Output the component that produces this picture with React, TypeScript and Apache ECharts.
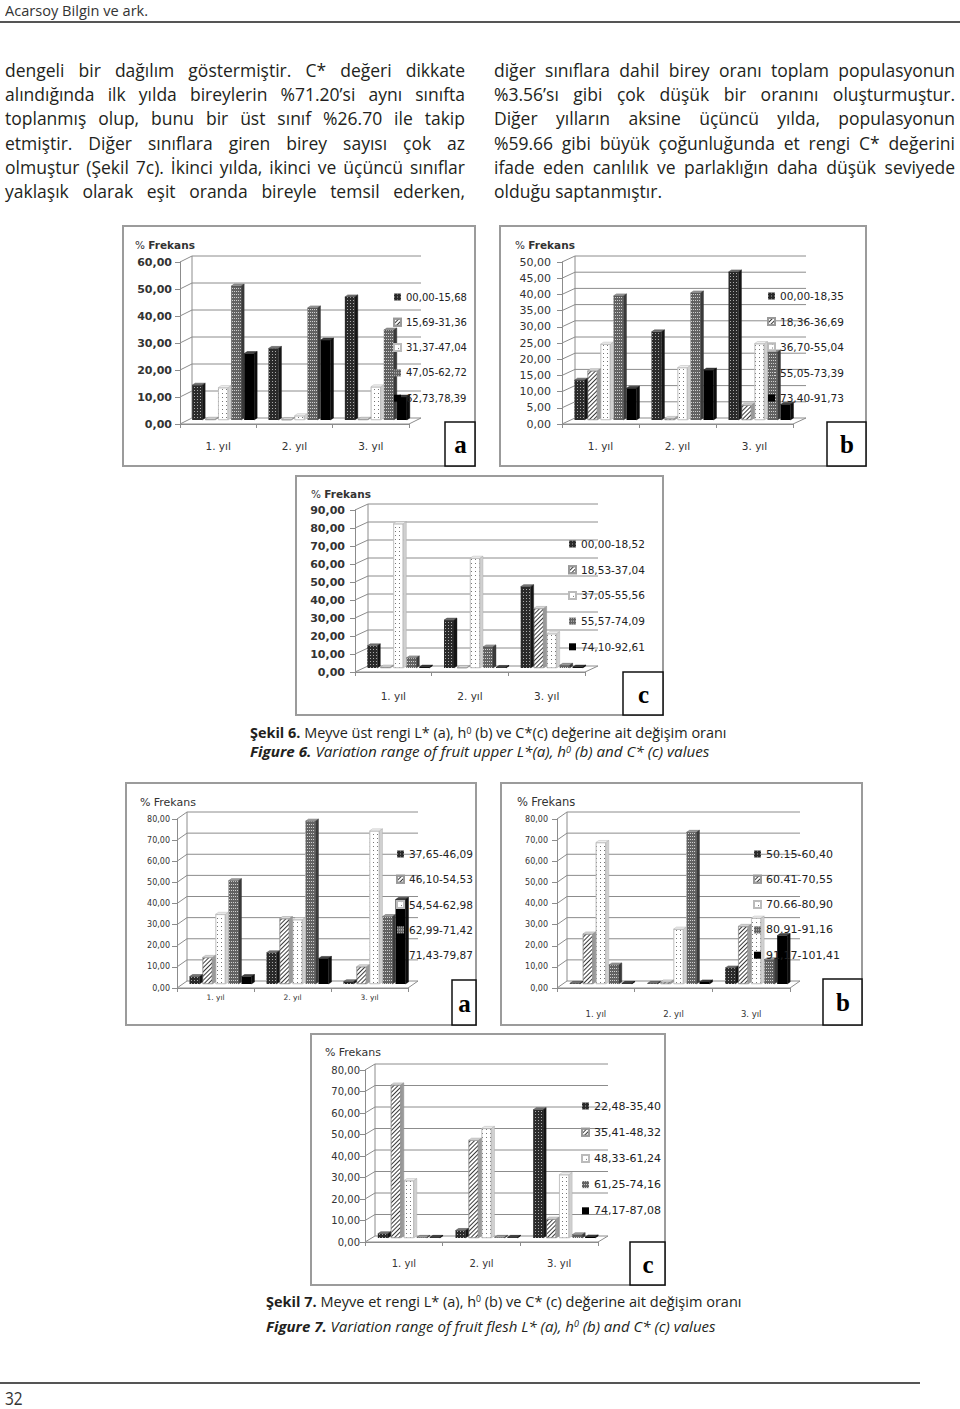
import React, { useEffect, useLayoutEffect, useRef, useState } from 'react';
import * as echarts from 'echarts';

// ---------------- DATA ----------------
const years = ['1. yıl', '2. yıl', '3. yıl'];

// Şekil 6a – fruit upper colour L*
const fig6aClasses = ['00,00-15,68', '15,69-31,36', '31,37-47,04', '47,05-62,72', '62,73,78,39'];
const fig6aValues = [
  [12.9, 26.5, 45.6],
  [0.3, 0.2, 0.3],
  [12.0, 1.6, 12.3],
  [49.6, 41.5, 33.3],
  [24.6, 29.6, 8.5],
];
const fig6aTicks = [0, 10, 20, 30, 40, 50, 60];

// Şekil 6b – fruit upper colour h0
const fig6bClasses = ['00,00-18,35', '18,36-36,69', '36,70-55,04', '55,05-73,39', '73,40-91,73'];
const fig6bValues = [
  [12.3, 27.2, 45.7],
  [15.2, 0.5, 4.6],
  [23.4, 16.2, 23.6],
  [38.3, 39.2, 21.0],
  [9.8, 15.4, 4.8],
];
const fig6bTicks = [0, 5, 10, 15, 20, 25, 30, 35, 40, 45, 50];

// Şekil 6c – fruit upper colour C*
const fig6cClasses = ['00,00-18,52', '18,53-37,04', '37,05-55,56', '55,57-74,09', '74,10-92,61'];
const fig6cValues = [
  [12.3, 26.6, 45.2],
  [0.5, 0.3, 33.1],
  [80.2, 61.0, 19.1],
  [5.6, 11.7, 1.5],
  [0.5, 0.3, 0.5],
];
const fig6cTicks = [0, 10, 20, 30, 40, 50, 60, 70, 80, 90];

// Şekil 7a – fruit flesh L*
const fig7aClasses = ['37,65-46,09', '46,10-54,53', '54,54-62,98', '62,99-71,42', '71,43-79,87'];
const fig7aValues = [
  [3.5, 14.8, 1.1],
  [12.6, 31.0, 8.2],
  [33.0, 30.5, 72.5],
  [48.9, 77.1, 31.9],
  [3.5, 12.1, 40.0],
];
const fig7aTicks = [0, 10, 20, 30, 40, 50, 60, 70, 80];

// Şekil 7b – fruit flesh h0
const fig7bClasses = ['50.15-60,40', '60.41-70,55', '70.66-80,90', '80.91-91,16', '91,17-101,41'];
const fig7bValues = [
  [0.3, 0.3, 7.6],
  [23.7, 1.0, 27.3],
  [67.0, 26.0, 31.2],
  [9.0, 71.8, 11.5],
  [0.3, 1.0, 22.9],
];
const fig7bTicks = [0, 10, 20, 30, 40, 50, 60, 70, 80];

// Şekil 7c – fruit flesh C*
const fig7cClasses = ['22,48-35,40', '35,41-48,32', '48,33-61,24', '61,25-74,16', '74,17-87,08'];
const fig7cValues = [
  [2.0, 3.5, 59.66],
  [71.2, 45.5, 8.8],
  [26.7, 51.0, 29.5],
  [0.3, 0.3, 1.5],
  [0.3, 0.3, 0.5],
];
const fig7cTicks = [0, 10, 20, 30, 40, 50, 60, 70, 80];

// ---------------- STYLES ----------------
const FONT = '"DejaVu Sans", Verdana, sans-serif';
const STY: any[] = [
  {
    color: '#2a2a2a',
    decal: { symbol: 'rect', symbolSize: 1, dashArrayX: [1, 2], dashArrayY: [1, 2], color: 'rgba(255,255,255,0.6)' },
    top: '#777', side: '#151515', edge: '#222',
  },
  {
    color: '#ffffff',
    decal: { symbol: 'rect', symbolSize: 1, dashArrayX: [1, 0], dashArrayY: [1, 2], rotation: -Math.PI / 4, color: '#3a3a3a' },
    top: '#d8d8d8', side: '#9a9a9a', edge: '#888', border: '#999',
  },
  {
    color: '#ffffff',
    decal: { symbol: 'rect', symbolSize: 1, dashArrayX: [1, 3], dashArrayY: [1, 3], color: '#777' },
    top: '#eeeeee', side: '#d0d0d0', edge: '#aaa', border: '#bbb',
  },
  {
    color: '#626262',
    decal: { symbol: 'rect', symbolSize: 1, dashArrayX: [1, 1], dashArrayY: [1, 2], color: 'rgba(235,235,235,0.8)' },
    top: '#a3a3a3', side: '#3a3a3a', edge: '#333',
  },
  { color: '#000000', top: '#444', side: '#0d0d0d', edge: '#000' },
];

type Cfg = {
  w: number; h: number; classes: string[]; values: number[][]; ticks: number[];
  axisX: number; topY: number; zeroY: number; rightX: number; dx: number; dy: number; bx: number; by: number;
  labelRight: number; yFont: number; yBold: boolean; xFont: number; xLabelY: number;
  legLeft: number; legY0: number; legStep: number; legFont: number;
  titleX: number; titleY: number; titleFont: number; titleBold: boolean;
  boxX: number; boxY: number; letter: string;
};

function buildOption(c: Cfg): any {
  const gw = c.rightX - c.axisX;
  const gh = c.zeroY - c.topY;
  const max = c.ticks[c.ticks.length - 1];
  const interval = c.ticks[1] - c.ticks[0];
  const BW = 10, GAP = 3, DX = 3, DY = 2;
  const n = c.classes.length;
  const total = n * BW + (n - 1) * GAP;
  const fmt = (v: number) => v.toFixed(2).replace('.', ',');
  const lineC = '#8c8c8c';
  const series: any[] = [];

  series.push({
    type: 'custom', xAxisIndex: 0, yAxisIndex: 0, z: 1, silent: true, clip: false,
    data: c.ticks.map((t) => [0, t]),
    encode: { x: 0, y: 1 },
    renderItem: (params: any, api: any) => {
      const cs = params.coordSys;
      const v = api.value(1);
      const y = api.coord([0, v])[1];
      const x0 = cs.x, x1 = cs.x + cs.width;
      const children: any[] = [];
      if (params.dataIndex === 0) {
        children.push({
          type: 'polygon',
          shape: { points: [[x0, y], [x1, y], [x1 + c.dx, y - c.dy], [x0 + c.dx, y - c.dy]] },
          style: { fill: '#fff', stroke: lineC, lineWidth: 1 },
        });
        children.push({
          type: 'line',
          shape: { x1: x0 + c.dx, y1: y - c.dy, x2: x0 + c.dx, y2: cs.y - c.dy },
          style: { stroke: lineC, lineWidth: 1 },
        });
      } else {
        children.push({
          type: 'polyline',
          shape: { points: [[x0, y], [x0 + c.dx, y - c.dy], [x1 + c.dx, y - c.dy]] },
          style: { fill: 'none', stroke: lineC, lineWidth: 1 },
        });
      }
      return { type: 'group', children };
    },
  });

  c.classes.forEach((name, s) => {
    const st = STY[s];
    series.push({
      type: 'bar', name, xAxisIndex: 1, yAxisIndex: 1, z: 2,
      barWidth: BW, barGap: '30%',
      data: c.values[s],
      itemStyle: {
        color: st.color,
        decal: st.decal,
        borderColor: st.border || st.color,
        borderWidth: st.border ? 0.6 : 0,
      },
      emphasis: { disabled: true },
    });
  });

  series.push({
    type: 'custom', xAxisIndex: 1, yAxisIndex: 1, z: 3, silent: true, clip: false,
    data: c.values.flatMap((arr, s) => arr.map((v, i) => [i, v, s])),
    encode: { x: 0, y: 1 },
    renderItem: (params: any, api: any) => {
      const i = api.value(0), v = api.value(1), s = api.value(2);
      const base = api.coord([i, 0]);
      const top = api.coord([i, v]);
      const x = base[0] - total / 2 + s * (BW + GAP);
      const yt = top[1], yb = base[1];
      const st = STY[s];
      return {
        type: 'group',
        children: [
          {
            type: 'polygon',
            shape: { points: [[x, yt], [x + BW, yt], [x + BW + DX, yt - DY], [x + DX, yt - DY]] },
            style: { fill: st.top, stroke: st.edge, lineWidth: 0.4 },
          },
          {
            type: 'polygon',
            shape: { points: [[x + BW, yt], [x + BW, yb], [x + BW + DX, yb - DY], [x + BW + DX, yt - DY]] },
            style: { fill: st.side, stroke: st.edge, lineWidth: 0.4 },
          },
        ],
      };
    },
  });

  return {
    animation: false,
    backgroundColor: '#fff',
    textStyle: { fontFamily: FONT },
    grid: [
      { left: c.axisX, top: c.topY, width: gw, height: gh },
      { left: c.axisX + c.bx, top: c.topY - c.by, width: gw, height: gh },
    ],
    xAxis: [
      {
        type: 'category', data: years, gridIndex: 0,
        axisLine: { lineStyle: { color: lineC } },
        axisTick: { show: true, length: 4, lineStyle: { color: lineC } },
        axisLabel: { color: '#333', fontSize: c.xFont, fontFamily: FONT, margin: c.xLabelY - c.zeroY - c.xFont * 0.6 },
        splitLine: { show: false },
      },
      { type: 'category', data: years, gridIndex: 1, show: false },
    ],
    yAxis: [
      {
        type: 'value', gridIndex: 0, min: 0, max, interval,
        axisLine: { show: true, lineStyle: { color: lineC } },
        axisTick: { show: true, length: 5, lineStyle: { color: lineC } },
        splitLine: { show: false },
        axisLabel: {
          formatter: fmt, fontSize: c.yFont, fontWeight: c.yBold ? 'bold' : 'normal',
          color: '#333', fontFamily: FONT, margin: c.axisX - c.labelRight,
        },
      },
      { type: 'value', gridIndex: 1, min: 0, max, interval, show: false, splitLine: { show: false } },
    ],
    legend: {
      data: c.classes, orient: 'vertical', left: c.legLeft, top: c.legY0 - 6, padding: 0,
      itemWidth: 7, itemHeight: 7, itemGap: c.legStep - 12, icon: 'rect', selectedMode: false,
      textStyle: { fontSize: c.legFont, color: '#222', fontFamily: FONT, lineHeight: 12 },
    },
    graphic: [
      {
        type: 'rect', silent: true, z: 0,
        shape: { x: 1, y: 1, width: c.w - 2, height: c.h - 2 },
        style: { fill: 'none', stroke: '#9b9b9b', lineWidth: 2 },
      },
      {
        type: 'text', x: c.titleX, y: c.titleY, silent: true,
        style: {
          text: '{p|%} {f|Frekans}',
          verticalAlign: 'middle',
          rich: {
            p: { fontSize: c.titleFont, fill: '#333', fontFamily: FONT },
            f: { fontSize: c.titleFont, fill: '#333', fontFamily: FONT, fontWeight: c.titleBold ? 'bold' : 'normal' },
          },
        },
      },
      {
        type: 'rect', silent: true, z: 100,
        shape: { x: c.boxX, y: c.boxY, width: c.w - c.boxX - 1, height: c.h - c.boxY - 1 },
        style: { fill: '#fff', stroke: '#111', lineWidth: 1.5 },
      },
      {
        type: 'text', silent: true, z: 101,
        x: (c.boxX + c.w) / 2, y: (c.boxY + c.h) / 2,
        style: {
          text: c.letter, fontFamily: '"Liberation Serif", "DejaVu Serif", serif', fontWeight: 'bold',
          fontSize: 25, fill: '#000', align: 'center', verticalAlign: 'middle',
        },
      },
    ],
    series,
  };
}

const charts: { x: number; y: number; cfg: Cfg }[] = [
  {
    x: 122, y: 225,
    cfg: {
      w: 354, h: 242, classes: fig6aClasses, values: fig6aValues, ticks: fig6aTicks,
      axisX: 58, topY: 37, zeroY: 199, rightX: 287, dx: 12, dy: 6, bx: 5, by: 4,
      labelRight: 50, yFont: 11, yBold: true, xFont: 10.5, xLabelY: 222,
      legLeft: 271, legY0: 72, legStep: 25.3, legFont: 10,
      titleX: 13, titleY: 20, titleFont: 10.5, titleBold: true,
      boxX: 323, boxY: 197, letter: 'a',
    },
  },
  {
    x: 499, y: 225,
    cfg: {
      w: 368, h: 242, classes: fig6bClasses, values: fig6bValues, ticks: fig6bTicks,
      axisX: 63, topY: 37, zeroY: 199, rightX: 294, dx: 13, dy: 6, bx: 5, by: 4,
      labelRight: 52, yFont: 11, yBold: false, xFont: 10.5, xLabelY: 222,
      legLeft: 268, legY0: 71, legStep: 25.5, legFont: 10.5,
      titleX: 16, titleY: 20, titleFont: 10.5, titleBold: true,
      boxX: 328, boxY: 197, letter: 'b',
    },
  },
  {
    x: 295, y: 475,
    cfg: {
      w: 369, h: 241, classes: fig6cClasses, values: fig6cValues, ticks: fig6cTicks,
      axisX: 60, topY: 35, zeroY: 197, rightX: 290, dx: 13, dy: 6, bx: 5, by: 4,
      labelRight: 50, yFont: 11, yBold: true, xFont: 10.5, xLabelY: 222,
      legLeft: 273, legY0: 69, legStep: 25.7, legFont: 10.5,
      titleX: 16, titleY: 19, titleFont: 10.5, titleBold: true,
      boxX: 328, boxY: 197, letter: 'c',
    },
  },
  {
    x: 125, y: 782,
    cfg: {
      w: 352, h: 244, classes: fig7aClasses, values: fig7aValues, ticks: fig7aTicks,
      axisX: 52, topY: 37, zeroY: 206, rightX: 283, dx: 10, dy: 7, bx: 5, by: 4,
      labelRight: 45, yFont: 8, yBold: false, xFont: 7.5, xLabelY: 216,
      legLeft: 271, legY0: 72, legStep: 25.3, legFont: 10.5,
      titleX: 15, titleY: 20, titleFont: 11, titleBold: false,
      boxX: 327, boxY: 198, letter: 'a',
    },
  },
  {
    x: 500, y: 782,
    cfg: {
      w: 363, h: 244, classes: fig7bClasses, values: fig7bValues, ticks: fig7bTicks,
      axisX: 57, topY: 37, zeroY: 206, rightX: 290, dx: 10, dy: 7, bx: 5, by: 4,
      labelRight: 48, yFont: 8, yBold: false, xFont: 8.5, xLabelY: 233,
      legLeft: 253, legY0: 72, legStep: 25.3, legFont: 11,
      titleX: 17, titleY: 20, titleFont: 11.5, titleBold: false,
      boxX: 323, boxY: 197, letter: 'b',
    },
  },
  {
    x: 310, y: 1033,
    cfg: {
      w: 356, h: 253, classes: fig7cClasses, values: fig7cValues, ticks: fig7cTicks,
      axisX: 55, topY: 37, zeroY: 209, rightX: 288, dx: 10, dy: 6, bx: 5, by: 4,
      labelRight: 50, yFont: 10, yBold: false, xFont: 10, xLabelY: 231,
      legLeft: 271, legY0: 73, legStep: 26.2, legFont: 11,
      titleX: 15, titleY: 19, titleFont: 11, titleBold: false,
      boxX: 320, boxY: 209, letter: 'c',
    },
  },
];

// ---------------- COMPONENTS ----------------
function EChart({ x, y, cfg }: { x: number; y: number; cfg: Cfg }) {
  const ref = useRef<HTMLDivElement>(null);
  useEffect(() => {
    if (!ref.current) return;
    const chart = echarts.init(ref.current, null, { renderer: 'svg' });
    chart.setOption(buildOption(cfg));
    return () => chart.dispose();
  }, [cfg]);
  return <div ref={ref} style={{ position: 'absolute', left: x, top: y, width: cfg.w, height: cfg.h }} />;
}

function Fit({ x, y, w, h, size, family, children, color }: any) {
  const ref = useRef<HTMLSpanElement>(null);
  const [sx, setSx] = useState(1);
  useLayoutEffect(() => {
    const measure = () => {
      if (ref.current) {
        const nat = ref.current.offsetWidth;
        if (nat > 0) setSx(w / nat);
      }
    };
    measure();
    if ((document as any).fonts && (document as any).fonts.ready) (document as any).fonts.ready.then(measure);
  }, [w]);
  return (
    <div style={{ position: 'absolute', left: x, top: y, height: h, lineHeight: h + 'px', whiteSpace: 'nowrap' }}>
      <span
        ref={ref}
        style={{
          display: 'inline-block', transform: `scaleX(${sx})`, transformOrigin: 'left center',
          fontSize: size, lineHeight: h + 'px', height: h,
          fontFamily: family || '"Open Sans", sans-serif', color: color || '#231f20',
        }}
      >
        {children}
      </span>
    </div>
  );
}

const leftLines = [
  'dengeli bir dağılım göstermiştir. C* değeri dikkate',
  'alındığında ilk yılda bireylerin %71.20’si aynı sınıfta',
  'toplanmış olup, bunu bir üst sınıf %26.70 ile takip',
  'etmiştir. Diğer sınıflara giren birey sayısı çok az',
  'olmuştur (Şekil 7c). İkinci yılda, ikinci ve üçüncü sınıflar',
  'yaklaşık olarak eşit oranda bireyle temsil ederken,',
];
const rightLines = [
  'diğer sınıflara dahil birey oranı toplam populasyonun',
  '%3.56’sı gibi çok düşük bir oranını oluşturmuştur.',
  'Diğer yılların aksine üçüncü yılda,  populasyonun',
  '%59.66 gibi büyük çoğunluğunda et rengi C* değerini',
  'ifade eden canlılık ve parlaklığın daha düşük seviyede',
  'olduğu saptanmıştır.',
];

function JLine({ x, y, w, text, last }: any) {
  return (
    <div
      style={{
        position: 'absolute', left: x, top: y, width: w, height: 24, lineHeight: '24px',
        fontSize: 17.5, fontFamily: '"Open Sans", sans-serif', color: '#231f20',
        textAlign: 'justify', textAlignLast: last ? 'left' : 'justify', whiteSpace: 'normal', overflow: 'visible',
      } as any}
    >
      {text}
    </div>
  );
}

const Sup = ({ children }: any) => (
  <span style={{ fontSize: '0.6em', verticalAlign: '0.55em', lineHeight: 0 }}>{children}</span>
);

export default function App() {
  return (
    <div
      style={{
        position: 'absolute', left: 0, top: 0, width: 960, height: 1409, background: '#fff', overflow: 'hidden',
      }}
    >
      <Fit x={5} y={1} w={143} h={18} size={15} color="#333">Acarsoy Bilgin ve ark.</Fit>
      <div style={{ position: 'absolute', left: 0, top: 21, width: 960, height: 2, background: '#555' }} />

      {leftLines.map((t, i) => (
        <JLine key={'l' + i} x={5} y={58 + i * 24.2} w={460} text={t} last={false} />
      ))}
      {rightLines.map((t, i) => (
        <JLine key={'r' + i} x={494} y={58 + i * 24.2} w={461} text={t} last={i === rightLines.length - 1} />
      ))}

      {charts.map((c, i) => (
        <EChart key={i} x={c.x} y={c.y} cfg={c.cfg} />
      ))}

      <Fit x={250} y={724} w={477} h={18} size={13.6}>
        <b>Şekil 6.</b> Meyve üst rengi L* (a), h<Sup>0</Sup> (b) ve C*(c) değerine ait değişim oranı
      </Fit>
      <Fit x={250} y={743} w={459} h={18} size={13.6}>
        <b><i>Figure 6.</i></b> <i>Variation range of fruit upper L*(a), h<Sup>0</Sup> (b) and C* (c) values</i>
      </Fit>

      <Fit x={266} y={1293} w={476} h={18} size={14.5}>
        <b>Şekil 7.</b> Meyve et rengi L* (a), h<Sup>0</Sup> (b) ve C* (c) değerine ait değişim oranı
      </Fit>
      <Fit x={266} y={1318} w={450} h={18} size={14.5}>
        <b><i>Figure 7.</i></b> <i>Variation range of fruit flesh L* (a), h<Sup>0</Sup> (b) and C* (c) values</i>
      </Fit>

      <div style={{ position: 'absolute', left: 0, top: 1382, width: 920, height: 2, background: '#555' }} />
      <Fit x={5} y={1389} w={18} h={18} size={18} color="#333">32</Fit>
    </div>
  );
}
